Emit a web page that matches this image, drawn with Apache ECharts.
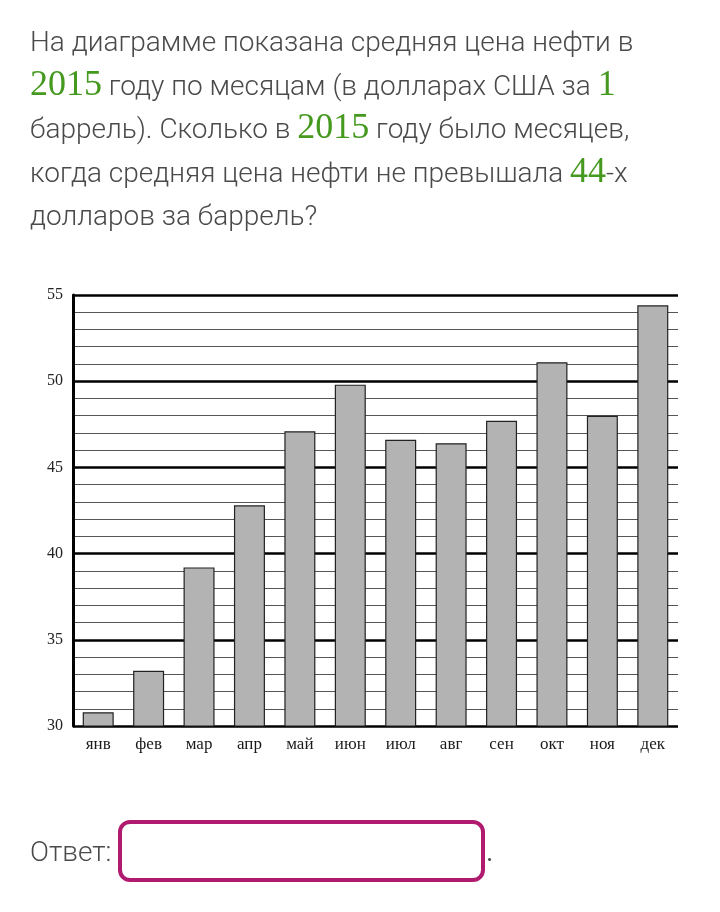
<!DOCTYPE html>
<html>
<head>
<meta charset="utf-8">
<script src="https://cdn.jsdelivr.net/npm/echarts@6/dist/echarts.min.js"></script>
<style>
  html, body { margin: 0; padding: 0; background: #fff; }
  #main { position: absolute; left: 0; top: 0; width: 720px; height: 912px; }
  .txt { position: absolute; left: 30px; top: 20px; width: 690px; font-family: Roboto, sans-serif; font-weight: 300;
         font-size: 28px; line-height: 43.5px; color: #4a4a4a; white-space: nowrap; z-index: 2; }
  .num { font-family: "Liberation Serif", serif; font-size: 36px; line-height: 0; color: #45991f; }
  .answer { position: absolute; left: 30px; top: 835px; font-family: Roboto, sans-serif; font-weight: 300;
            font-size: 28px; color: #4a4a4a; z-index: 2; }
  .box { position: absolute; left: 118px; top: 820px; width: 359px; height: 54px; border: 4px solid #b01a6f;
         border-radius: 12px; z-index: 2; }
  .dot { position: absolute; left: 486px; top: 835px; font-family: Roboto, sans-serif; font-size: 28px; color: #4a4a4a; z-index: 2; }
</style>
</head>
<body>
<div id="main"></div>
<div class="txt">
На диаграмме показана средняя цена нефти в<br>
<span class="num">2015</span> году по месяцам (в долларах США за <span class="num">1</span><br>
баррель). Сколько в <span class="num">2015</span> году было месяцев,<br>
когда средняя цена нефти не превышала <span class="num">44</span>-х<br>
долларов за баррель?
</div>
<div class="answer">Ответ:</div>
<div class="box"></div>
<div class="dot">.</div>
<script>
// месяцы 2015 года
var months = ['янв', 'фев', 'мар', 'апр', 'май', 'июн', 'июл', 'авг', 'сен', 'окт', 'ноя', 'дек'];
// средняя цена нефти, долл. за баррель
var prices = [30.8, 33.2, 39.2, 42.8, 47.1, 49.8, 46.6, 46.4, 47.7, 51.1, 48.0, 54.4];
var yMin = 30;
var yMax = 55;

var chart = echarts.init(document.getElementById('main'));

var option = {
    animation: false,
    backgroundColor: '#fff',
    grid: {
        left: 73,
        right: 42,
        top: 295,
        bottom: 186
    },
    xAxis: {
        type: 'category',
        data: months,
        axisTick: { show: false },
        axisLine: { show: false },
        axisLabel: {
            margin: 10,
            fontFamily: 'Liberation Serif',
            fontSize: 17,
            color: '#1a1a1a'
        }
    },
    yAxis: [
        {
            // тонкие линии через 1
            type: 'value',
            min: yMin,
            max: yMax,
            interval: 1,
            axisLabel: { show: false },
            axisTick: { show: false },
            axisLine: { show: false },
            splitLine: { lineStyle: { color: '#555', width: 1.2 } }
        },
        {
            // жирные линии через 5
            type: 'value',
            position: 'left',
            min: yMin,
            max: yMax,
            interval: 5,
            axisTick: { show: false },
            axisLine: { show: true, lineStyle: { color: '#000', width: 3 } },
            axisLabel: {
                margin: 10,
                fontFamily: 'Liberation Serif',
                fontSize: 16,
                color: '#222'
            },
            splitLine: { lineStyle: { color: '#000', width: 2.5 } }
        }
    ],
    series: [
        {
            type: 'bar',
            yAxisIndex: 1,
            data: prices,
            barWidth: 31,
            itemStyle: {
                color: '#b3b3b3',
                borderColor: '#222',
                borderWidth: 1.2
            },
            z: 3
        }
    ]
};

chart.setOption(option);
</script>
</body>
</html>
